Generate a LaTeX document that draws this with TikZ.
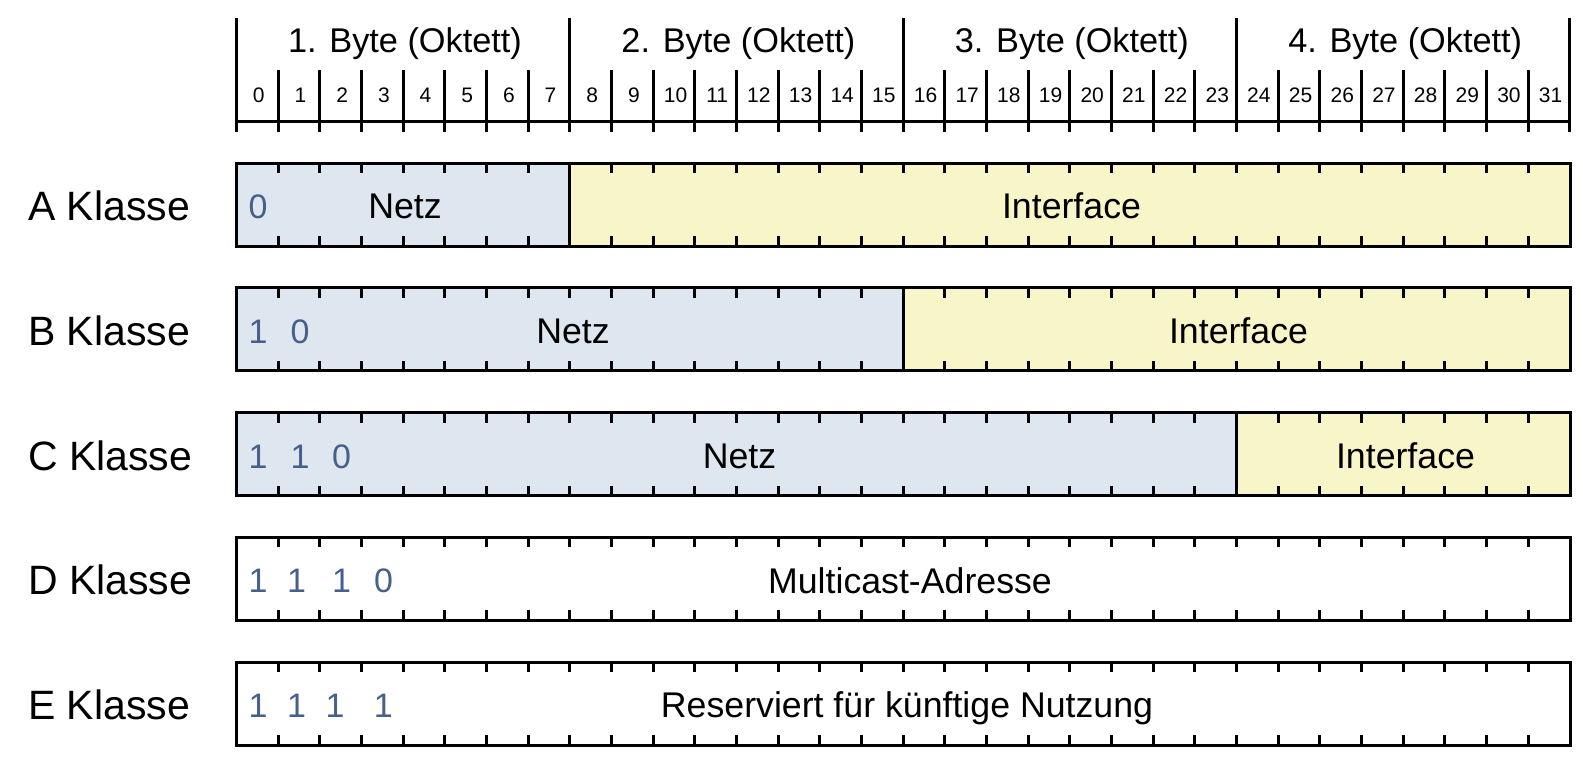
\documentclass[tikz,border=0pt]{standalone}
\usepackage{fontspec}
\setmainfont{Liberation Sans}
\definecolor{netzfill}{HTML}{DEE6F0}
\definecolor{ifacefill}{HTML}{F8F6C8}
\definecolor{bitblue}{HTML}{46608C}
\begin{document}
\begin{tikzpicture}[x=1pt,y=-1pt,
  boxframe/.style={line width=3pt,line join=miter},
  tickline/.style={line width=3pt},
  classlabel/.style={anchor=base west,inner sep=0pt,font=\fontsize{41}{41}\selectfont},
  fieldname/.style={anchor=base,inner sep=0pt,font=\fontsize{35.7}{36}\selectfont},
  bytelabel/.style={anchor=base,inner sep=0pt,font=\fontsize{34.3}{34}\selectfont},
  bitnum/.style={anchor=base,inner sep=0pt,font=\fontsize{21}{21}\selectfont},
  leadbit/.style={anchor=base,inner sep=0pt,text=bitblue,font=\fontsize{34}{34}\selectfont}]
\useasboundingbox (0,0) rectangle (1583,756);

% ---- bit ruler ----
\draw[tickline] (236.5,121.7) -- (1570,121.7);
\foreach \i in {0,...,32}{
  \pgfmathtruncatemacro{\m}{mod(\i,8)}
  \ifnum\m=0
    \draw[tickline] ({236.5+\i*41.67},18) -- ({236.5+\i*41.67},131.7);
  \else
    \draw[tickline] ({236.5+\i*41.67},70) -- ({236.5+\i*41.67},131.7);
  \fi
}
\foreach \i in {0,...,31}
  \node[bitnum] (b\i) at ({238+(\i+0.5)*41.67},102.7) {\i};
\foreach \k in {1,...,4}
  \node[bytelabel] (byte\k) at ({405+(\k-1)*333.4},52.3) {\k. Byte (Oktett)};

% ---- address classes ----
\foreach \r/\sp in {0/8,1/16,2/24,3/0,4/0}{
  \pgfmathsetmacro{\yt}{163+\r*124.75}
  \pgfmathsetmacro{\yb}{\yt+83}
  \pgfmathsetmacro{\xs}{236.5+\sp*41.67}
  \ifnum\sp>0
    \fill[netzfill] (236.5,\yt) rectangle (\xs,\yb);
    \fill[ifacefill] (\xs,\yt) rectangle (1570,\yb);
  \fi
  \foreach \i in {1,...,31}{
    \draw[tickline] ({236.5+\i*41.67},\yt) -- ++(0,10);
    \draw[tickline] ({236.5+\i*41.67},\yb) -- ++(0,-10);
  }
  \ifnum\sp>0 \draw[boxframe] (\xs,\yt) -- (\xs,\yb); \fi
  \draw[boxframe] (236.5,\yt) rectangle (1570,\yb);
}

% class names
\node[classlabel] (clsA) at (28,220.5) {A Klasse};
\node[classlabel] (clsB) at (28,345.25) {B Klasse};
\node[classlabel] (clsC) at (28,470) {C Klasse};
\node[classlabel] (clsD) at (28,594.75) {D Klasse};
\node[classlabel] (clsE) at (28,719.5) {E Klasse};

% leading bits
\node[leadbit] (pA0) at (258,218.5) {0};
\node[leadbit] (pB0) at (258,343.25) {1};
\node[leadbit] (pB1) at (300,343.25) {0};
\node[leadbit] (pC0) at (258,468) {1};
\node[leadbit] (pC1) at (300,468) {1};
\node[leadbit] (pC2) at (341.7,468) {0};
\node[leadbit] (pD0) at (258,592.75) {1};
\node[leadbit] (pD1) at (296.7,592.75) {1};
\node[leadbit] (pD2) at (341.7,592.75) {1};
\node[leadbit] (pD3) at (383.5,592.75) {0};
\node[leadbit] (pE0) at (258,717.5) {1};
\node[leadbit] (pE1) at (296.7,717.5) {1};
\node[leadbit] (pE2) at (335,717.5) {1};
\node[leadbit] (pE3) at (383.3,717.5) {1};

% field names
\node[fieldname] (netzA) at (405,218.8) {Netz};
\node[fieldname] (ifA) at (1071.5,218.8) {Interface};
\node[fieldname] (netzB) at (573,343.5) {Netz};
\node[fieldname] (ifB) at (1238.5,343.5) {Interface};
\node[fieldname] (netzC) at (739.5,468.3) {Netz};
\node[fieldname] (ifC) at (1405.5,468.3) {Interface};
\node[fieldname] (mcD) at (910,593) {Multicast-Adresse};
\node[fieldname] (resE) at (907,717.8) {Reserviert für künftige Nutzung};
\end{tikzpicture}
\end{document}
